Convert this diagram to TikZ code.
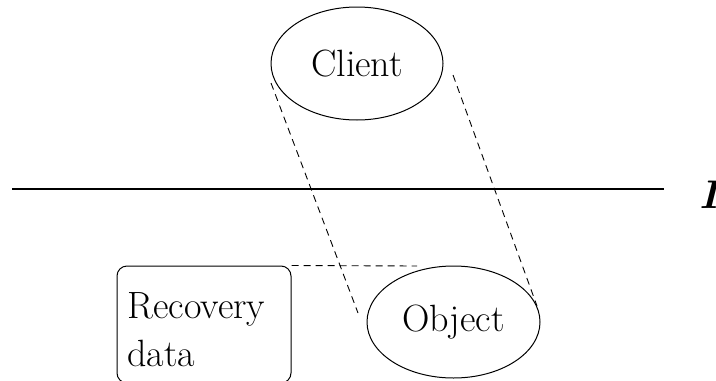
\documentclass[tikz,border=0pt]{standalone}
\usetikzlibrary{shapes.geometric}
\begin{document}
\begin{tikzpicture}[x=0.5pt, y=-0.5pt,
  bigtext/.style={font=\fontsize{19}{24}\selectfont},
  oval/.style={draw, ellipse, line width=0.5pt, inner sep=0pt, bigtext},
  store/.style={draw, rectangle, rounded corners=5pt, line width=0.5pt, inner sep=0pt},
  guide/.style={line width=0.45pt, dash pattern=on 3.5pt off 2.5pt},
  border/.style={line width=0.65pt}]
  \useasboundingbox (0,0) rectangle (716,380);

  % the two processes
  \node[oval, minimum width=86pt, minimum height=56.5pt] (client) at (357,63.5) {Client};
  \node[oval, minimum width=86.5pt, minimum height=56pt] (object) at (453.5,322) {Object};

  % stored recovery data
  \node[store, minimum width=87pt, minimum height=58.5pt] (rec) at (204,324.5) {};
  \node[bigtext, align=left, anchor=north west, inner sep=0pt] (rectext) at (127,292) {Recovery\\data};

  % boundary line with its label
  \coordinate (bl) at (12,189);
  \coordinate (br) at (664,189);
  \draw[border] (bl) -- (br);
  \node[font=\fontsize{20}{24}\selectfont\bfseries\itshape, anchor=base west, inner sep=0pt] (lab) at (699,208) {I};

  % projection guides
  \coordinate (l1) at (271,83);
  \coordinate (l2) at (358,313);
  \coordinate (r1) at (453,75);
  \coordinate (r2) at (537,306);
  \coordinate (h2) at (417,266);
  \draw[guide] (l1) -- (l2);
  \draw[guide] (r1) -- (r2);
  \draw[guide] (rec.north east) -- (h2);
\end{tikzpicture}
\end{document}
